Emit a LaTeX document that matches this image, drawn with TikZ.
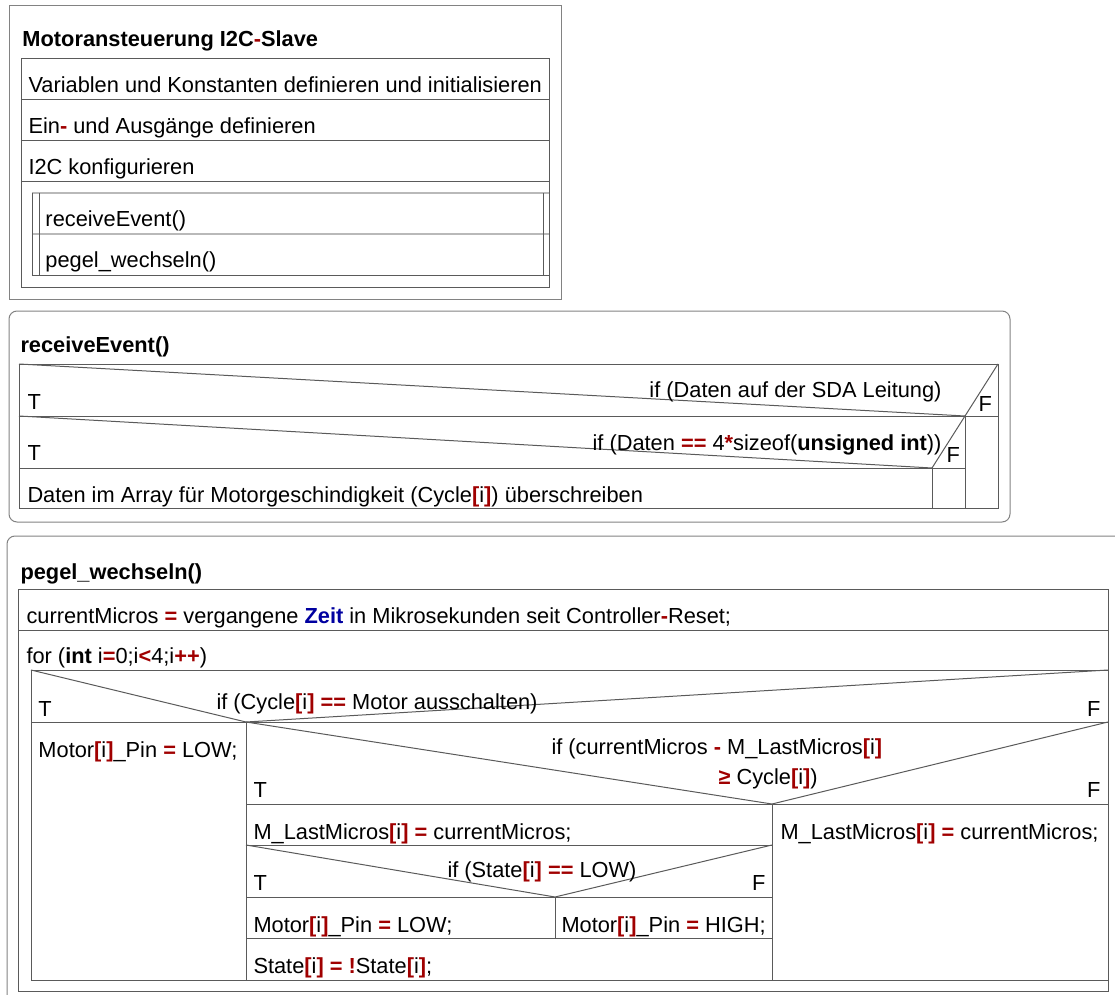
\documentclass[tikz,border=0pt]{standalone}
\usepackage{fontspec}
\setmainfont{Liberation Sans}
\usepackage{tikz}
\definecolor{opred}{RGB}{160,0,0}
\definecolor{kwblue}{RGB}{0,0,160}
\definecolor{linegray}{RGB}{90,90,90}
\definecolor{boxgray}{RGB}{130,130,130}
\newcommand{\rop}[1]{{\color{opred}\bfseries #1}}
\newcommand{\ix}[1]{\rop{[}#1\rop{]}}

\begin{document}
\begin{tikzpicture}[x=.5pt, y=-.5pt, line width=.5pt,
		txt/.style={anchor=base west, inner sep=0pt, font=\fontsize{10.9}{13}\selectfont},
		txtr/.style={txt, anchor=base east},
		ttl/.style={txt, font=\fontsize{10.9}{13}\selectfont\bfseries},
		frame/.style={draw=boxgray},
		nsd/.style={draw=linegray},
		callrow/.style={draw=gray!55, line width=.9pt}]
			\useasboundingbox (0, 0) rectangle (1115, 995);
			\clip (0, 0) rectangle (1115, 995);
			\draw[frame] (9, 6) rectangle (561, 299);
			\node[ttl] (main) at (22, 47) {Motoransteuerung I2C\rop{-}Slave};
			\draw[nsd] (21, 59) rectangle (549, 287);
			\draw[nsd] (21, 100) -- (549, 100);
			\draw[nsd] (21, 141) -- (549, 141);
			\draw[nsd] (21, 182) -- (549, 182);
			\node[txt] (vars) at (28, 93) {Variablen und Konstanten definieren und initialisieren};
			\node[txt] (pins) at (28, 134) {Ein\rop{-} und Ausgänge definieren};
			\node[txt] (conf) at (28, 175) {I2C konfigurieren};
			\draw[callrow] (32, 193) -- (549, 193);
			\draw[callrow] (32, 234) -- (549, 234);
			\draw[nsd] (32, 275) -- (549, 275);
			\draw[nsd] (32, 193) -- (32, 275);
			\draw[nsd] (39, 193) -- (39, 275);
			\draw[nsd] (543, 193) -- (543, 275);
			\node[txt] (callrecv) at (45, 227) {receiveEvent()};
			\node[txt] (callpegel) at (45, 268) {pegel\_wechseln()};
			\draw[frame, rounded corners=4pt] (9, 311) rectangle (1010, 522);
			\node[ttl] (recv) at (20, 352) {receiveEvent()};
			\draw[nsd] (19, 364) rectangle (998, 508);
			\draw[nsd] (19, 364) -- (965, 416) -- (998, 364);
			\draw[nsd] (19, 416) -- (998, 416);
			\draw[nsd] (19, 416) -- (932, 468) -- (965, 416);
			\draw[nsd] (19, 468) -- (965, 468);
			\draw[nsd] (965, 416) -- (965, 508);
			\draw[nsd] (932, 468) -- (932, 508);
			\node[txt] (tsda) at (27, 409) {T};
			\node[txtr] (csda) at (942, 397) {if (Daten auf der SDA Leitung)};
			\node[txt] (fsda) at (978, 411) {F};
			\node[txt] (tlen) at (27, 460) {T};
			\node[txtr] (clen) at (942, 450) {if (Daten \rop{==} 4\rop{*}sizeof(\textbf{unsigned int}))};
			\node[txt] (flen) at (946, 462) {F};
			\node[txt] (store) at (27, 502) {Daten im Array für Motorgeschindigkeit (Cycle\ix{i}) überschreiben};
			\draw[frame, rounded corners=4pt] (7, 536) rectangle (1122, 1010);
			\node[ttl] (pegel) at (20, 579) {pegel\_wechseln()};
			\draw[nsd] (18, 589) rectangle (1108, 991);
			\draw[nsd] (18, 630) -- (1108, 630);
			\node[txt] (now) at (26, 623) {currentMicros \rop{=} vergangene {\color{kwblue}\bfseries Zeit} in Mikrosekunden seit Controller\rop{-}Reset;};
			\node[txt] (loop) at (26, 663) {for (\textbf{int} i\rop{=}0;i\rop{<}4;i\rop{++})};
			\draw[nsd] (31, 670) rectangle (1108, 980);
			\draw[nsd] (31, 670) -- (246, 722) -- (1108, 670);
			\draw[nsd] (31, 722) -- (1108, 722);
			\draw[nsd] (246, 722) -- (246, 980);
			\draw[nsd] (246, 722) -- (772, 804) -- (1108, 722);
			\draw[nsd] (246, 804) -- (1108, 804);
			\draw[nsd] (772, 804) -- (772, 980);
			\draw[nsd] (246, 845) -- (772, 845);
			\draw[nsd] (246, 845) -- (555, 897) -- (772, 845);
			\draw[nsd] (246, 897) -- (772, 897);
			\draw[nsd] (555, 897) -- (555, 938);
			\draw[nsd] (246, 938) -- (772, 938);
			\node[txt] (toff) at (38, 716) {T};
			\node[txt] (coff) at (216, 709) {if (Cycle\ix{i} \rop{==} Motor ausschalten)};
			\node[txtr] (foff) at (1101, 716) {F};
			\node[txt] (pinoff) at (38, 757) {Motor\ix{i}\_Pin \rop{=} LOW;};
			\node[txt] (cdue) at (551, 754) {if (currentMicros \rop{-} M\_LastMicros\ix{i}};
			\node[txt] (cdue2) at (718, 784) {\rop{≥} Cycle\ix{i})};
			\node[txt] (tdue) at (253, 797) {T};
			\node[txtr] (fdue) at (1101, 797) {F};
			\node[txt] (lastT) at (253, 839) {M\_LastMicros\ix{i} \rop{=} currentMicros;};
			\node[txt] (lastF) at (780, 839) {M\_LastMicros\ix{i} \rop{=} currentMicros;};
			\node[txt] (cstate) at (447, 877) {if (State\ix{i} \rop{==} LOW)};
			\node[txt] (tstate) at (253, 890) {T};
			\node[txtr] (fstate) at (766, 890) {F};
			\node[txt] (pinlow) at (253, 932) {Motor\ix{i}\_Pin \rop{=} LOW;};
			\node[txt] (pinhigh) at (561, 932) {Motor\ix{i}\_Pin \rop{=} HIGH;};
			\node[txt] (toggle) at (253, 973) {State\ix{i} \rop{=} \rop{!}State\ix{i};};
		\end{tikzpicture}
\end{document}
